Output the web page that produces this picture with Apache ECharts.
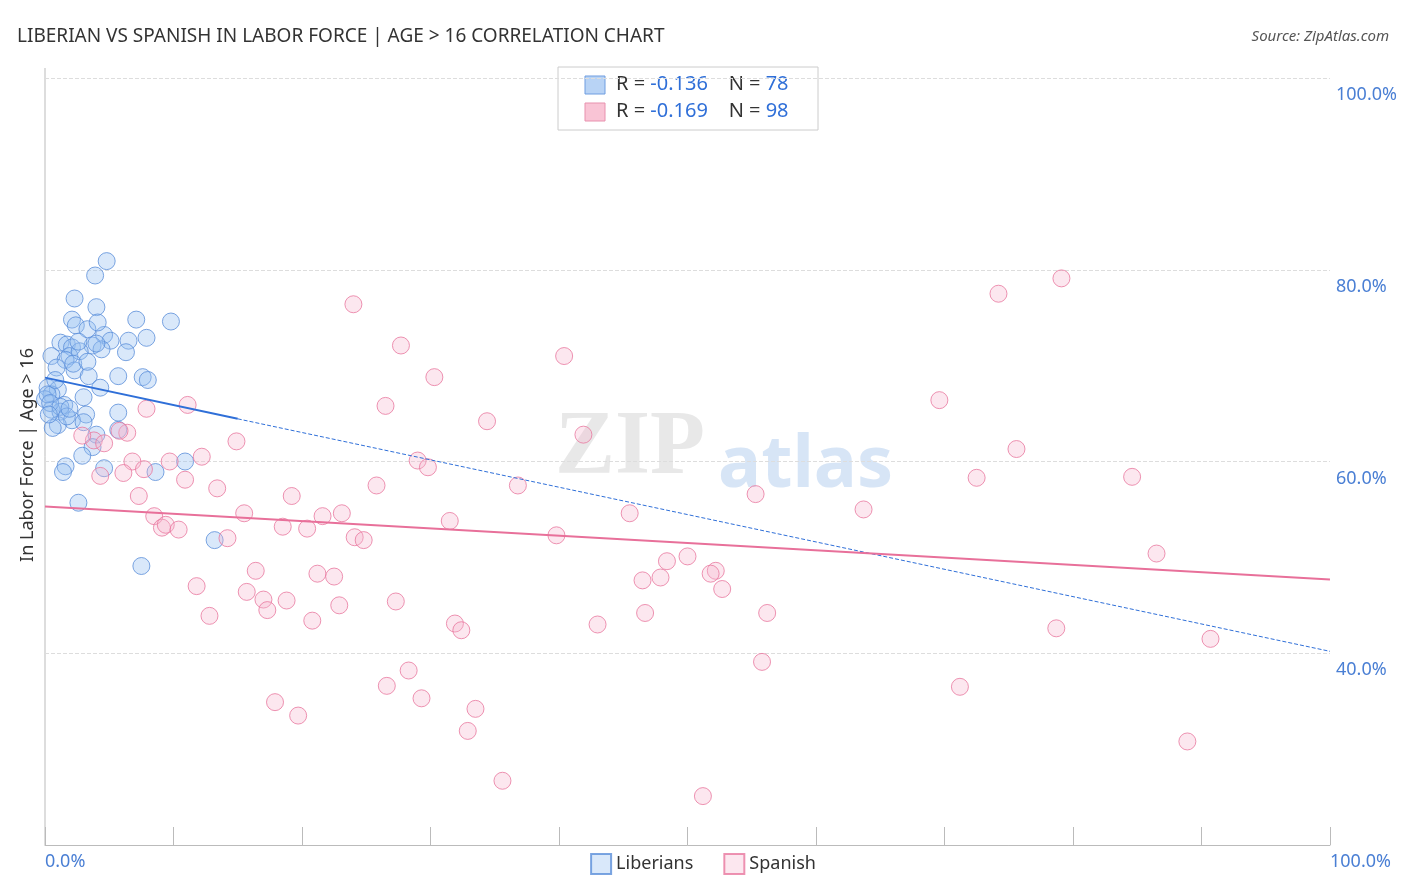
<!DOCTYPE html><html><head><meta charset="utf-8"><script src="https://cdn.jsdelivr.net/npm/echarts@6/dist/echarts.min.js"></script></head><body style="margin:0"><div id="c" style="width:1406px;height:892px"></div><script>
const bluePx=[[107,261],[95,276],[74,299],[97,307],[72,320],[136,320],[171,322],[76,326],[88,330],[104,335],[98,323],[146,338],[60,343],[67,345],[72,348],[93,346],[111,341],[128,341],[70,356],[126,353],[102,350],[52,356],[65,360],[80,352],[74,371],[57,368],[89,377],[118,377],[143,378],[148,380],[48,388],[58,390],[100,388],[52,395],[84,398],[45,400],[64,405],[52,410],[60,412],[86,415],[118,413],[72,421],[83,423],[58,426],[53,428],[96,435],[118,430],[92,448],[82,456],[66,467],[104,469],[63,473],[155,473],[185,462],[78,503],[215,541],[141,567],[47,395],[50,403],[55,380],[61,407],[67,417],[73,364],[79,342],[88,362],[97,344],[69,409],[49,415]];
const pinkPx=[[1062,279],[999,294],[354,305],[401,346],[564,356],[434,378],[188,405],[386,406],[940,401],[487,422],[584,435],[237,442],[127,433],[94,441],[119,431],[82,436],[104,444],[202,457],[170,462],[1017,450],[418,461],[428,468],[133,462],[144,470],[100,476],[124,474],[185,480],[217,489],[376,486],[518,486],[139,497],[292,497],[976,478],[1132,477],[1331,471],[244,514],[154,517],[323,517],[342,514],[450,522],[630,514],[863,510],[756,495],[283,527],[307,529],[162,528],[166,525],[179,530],[227,539],[355,538],[364,541],[557,536],[1157,554],[688,557],[667,562],[256,571],[318,574],[334,577],[660,578],[643,581],[716,571],[710,574],[197,587],[247,593],[264,600],[286,601],[396,602],[339,606],[267,611],[722,590],[209,617],[312,621],[598,625],[645,614],[767,614],[455,624],[461,631],[1056,629],[1210,640],[762,663],[409,671],[387,687],[960,688],[422,699],[275,703],[298,716],[476,710],[468,732],[1187,742],[503,782],[703,797],[147,409]];
// values (converted from reading positions to percentages)
const conv=p=>[+((p[0]-45)/12.85).toFixed(1),+(100-(p[1]-78)/9.6).toFixed(1)];
const liberians=bluePx.map(conv);
const spanish=pinkPx.map(conv);
const blueTrend=[[0,68.75],[15,64.45]];
const blueTrendDash=[[15,64.45],[100,40.2]];
const pinkTrend=[[0,55.3],[100,47.7]];
const yTicks=[40,60,80,100];
const c=echarts.init(document.getElementById('c'));
c.setOption({
 animation:false,
 title:[{text:'LIBERIAN VS SPANISH IN LABOR FORCE | AGE > 16 CORRELATION CHART',left:12,top:22,textStyle:{fontSize:19,fontWeight:'normal',color:'#333',fontFamily:'Noto Sans'}},
  {text:'Source: ZipAtlas.com',right:12,top:24,textStyle:{fontSize:15,fontStyle:'italic',fontWeight:'normal',color:'#555',fontFamily:'Noto Sans'}}],
 grid:{left:45,right:76,top:78,bottom:47,outerBoundsMode:'none',containLabel:false},
 legend:{bottom:12,left:'center',icon:'rect',itemWidth:20,itemHeight:20,itemGap:30,textStyle:{fontSize:18,color:'#333',fontFamily:'Noto Sans'},data:['Liberians','Spanish']},
 xAxis:{type:'value',min:0,max:100,interval:10,splitLine:{show:false},axisLine:{lineStyle:{color:'#bbb'}},axisTick:{inside:true,length:18,lineStyle:{color:'#bbb'}},
  axisLabel:{fontSize:18,color:'#4a7fd4',fontFamily:'Noto Sans',formatter:v=>v===0||v===100?v.toFixed(1)+'%':'',alignMinLabel:'left',alignMaxLabel:'left',margin:8}},
 yAxis:{type:'value',min:20,max:100,interval:20,position:'right',
  axisLine:{show:false},axisTick:{show:false},splitLine:{lineStyle:{type:'dashed',color:'#ddd'}},
  axisLabel:{fontSize:18,color:'#4a7fd4',fontFamily:'Noto Sans',verticalAlign:'top',padding:[8,0,0,0],margin:6,formatter:v=>yTicks.includes(v)?v.toFixed(1)+'%':''}},
 graphic:[
  {type:'line',shape:{x1:45,y1:68,x2:45,y2:845},style:{stroke:'#bbb',lineWidth:1}},
  {type:'text',x:37,y:455,rotation:Math.PI/2,style:{text:'In Labor Force | Age > 16',align:'center',verticalAlign:'bottom',font:'18px "Noto Sans"',fill:'#333'}},
  {type:'text',left:555,top:405,style:{text:'ZIP',font:'bold 90px "Liberation Serif"',fill:'rgba(190,190,190,0.35)'}},
  {type:'text',left:718,top:430,style:{text:'atlas',font:'bold 72px "Noto Sans"',fill:'rgba(140,180,230,0.35)'}},
  {type:'rect',shape:{x:558,y:67,width:260,height:63},style:{fill:'#fff',stroke:'#ccc'}},
  {type:'rect',shape:{x:585,y:76,width:20,height:18},style:{fill:'#b8d3f5',stroke:'#6e9de0'}},
  {type:'rect',shape:{x:585,y:103,width:20,height:18},style:{fill:'#f9c4d5',stroke:'#e891ae'}},
  {type:'text',x:616,y:74,style:{rich:{a:{fontSize:20,fill:'#333',fontFamily:'Noto Sans'},b:{fontSize:20,fill:'#2f6fd8',fontFamily:'Noto Sans'}},text:'{a|R = }{b|-0.136}{a|    N = }{b|78}'}},
  {type:'text',x:616,y:101,style:{rich:{a:{fontSize:20,fill:'#333',fontFamily:'Noto Sans'},b:{fontSize:20,fill:'#2f6fd8',fontFamily:'Noto Sans'}},text:'{a|R = }{b|-0.169}{a|    N = }{b|98}'}}
 ],
 series:[
  {name:'Liberians',type:'scatter',data:liberians,symbolSize:17,itemStyle:{color:'rgba(150,190,240,0.45)',borderColor:'#5b8fd9',borderWidth:1}},
  {name:'Spanish',type:'scatter',data:spanish,symbolSize:17,itemStyle:{color:'rgba(245,180,205,0.4)',borderColor:'#e8789f',borderWidth:1}},
  {type:'line',data:blueTrend,symbol:'none',lineStyle:{color:'#2f6fd8',width:2},z:5},
  {type:'line',data:blueTrendDash,symbol:'none',lineStyle:{color:'#2f6fd8',width:1,type:'dashed'},z:5},
  {type:'line',data:pinkTrend,symbol:'none',lineStyle:{color:'#e8709a',width:2},z:5}
 ]
});
</script></body></html>
